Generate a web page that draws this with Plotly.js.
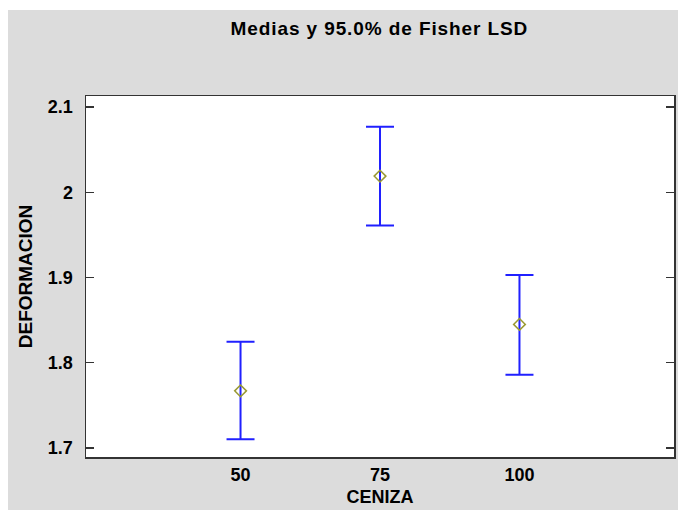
<!DOCTYPE html>
<html>
<head>
<meta charset="utf-8">
<script src="https://cdn.plot.ly/plotly-3.0.1.min.js"></script>
<style>
html,body{margin:0;padding:0;background:#ffffff;}
#wrap{position:absolute;left:8px;top:10px;width:670px;height:500px;}
#wrap .gtitle{letter-spacing:0.9px;}
</style>
</head>
<body>
<div id="wrap"></div>
<script>
const categories = ["50", "75", "100"];
const means = [1.767, 2.019, 1.845];
const upper = [1.8245, 2.077, 1.903];
const lower = [1.7101, 1.961, 1.786];
const yTicks = [1.7, 1.8, 1.9, 2.0, 2.1];
const yTickText = ["1.7", "1.8", "1.9", "2", "2.1"];

const idx = categories.map((c, i) => i);
const trace = {
  type: "scatter",
  mode: "markers",
  x: idx,
  y: means,
  marker: {symbol: "diamond-open", size: 9, color: "#999933", line: {width: 1.5}},
  error_y: {
    type: "data",
    symmetric: false,
    array: upper.map((u, i) => u - means[i]),
    arrayminus: means.map((m, i) => m - lower[i]),
    color: "#2020ff",
    thickness: 2,
    width: 14
  },
  hoverinfo: "skip",
  showlegend: false
};

const fontFam = "Liberation Sans, Arial, sans-serif";
const layout = {
  width: 670, height: 500,
  paper_bgcolor: "#dcdcdc",
  plot_bgcolor: "#ffffff",
  margin: {l: 78, r: 4, t: 86, b: 53},
  title: {text: "<b>Medias y 95.0% de Fisher LSD</b>", font: {family: fontFam, size: 19, color: "#000"}, x: 0.5543, xanchor: "center", y: 0.963, yanchor: "middle"},
  xaxis: {
    range: [-1.108, 3.108],
    tickvals: idx,
    ticktext: categories.map(c => "<b>" + c + "</b>"),
    ticks: "",
    showgrid: false, zeroline: false,
    showline: true, linecolor: "#333", linewidth: 1.5, mirror: true,
    tickfont: {family: fontFam, size: 18, color: "#000"},
    ticklabelstandoff: 1,
    title: {text: "<b>CENIZA</b>", font: {family: fontFam, size: 18, color: "#000"}, standoff: 6},
    automargin: false
  },
  yaxis: {
    range: [1.6894, 2.113],
    tickvals: yTicks,
    ticktext: yTickText.map(t => "<b>" + t + "</b>"),
    ticks: "inside", ticklen: 8, tickwidth: 1.5, tickcolor: "#333",
    showgrid: false, zeroline: false,
    showline: true, linecolor: "#333", linewidth: 1.5, mirror: "ticks",
    tickfont: {family: fontFam, size: 18, color: "#000"},
    ticklabelstandoff: 8,
    title: {text: "<b>DEFORMACION</b>", font: {family: fontFam, size: 19, color: "#000"}, standoff: 10},
    automargin: false
  }
};
Plotly.newPlot("wrap", [trace], layout, {staticPlot: true, displayModeBar: false});
</script>
</body>
</html>
